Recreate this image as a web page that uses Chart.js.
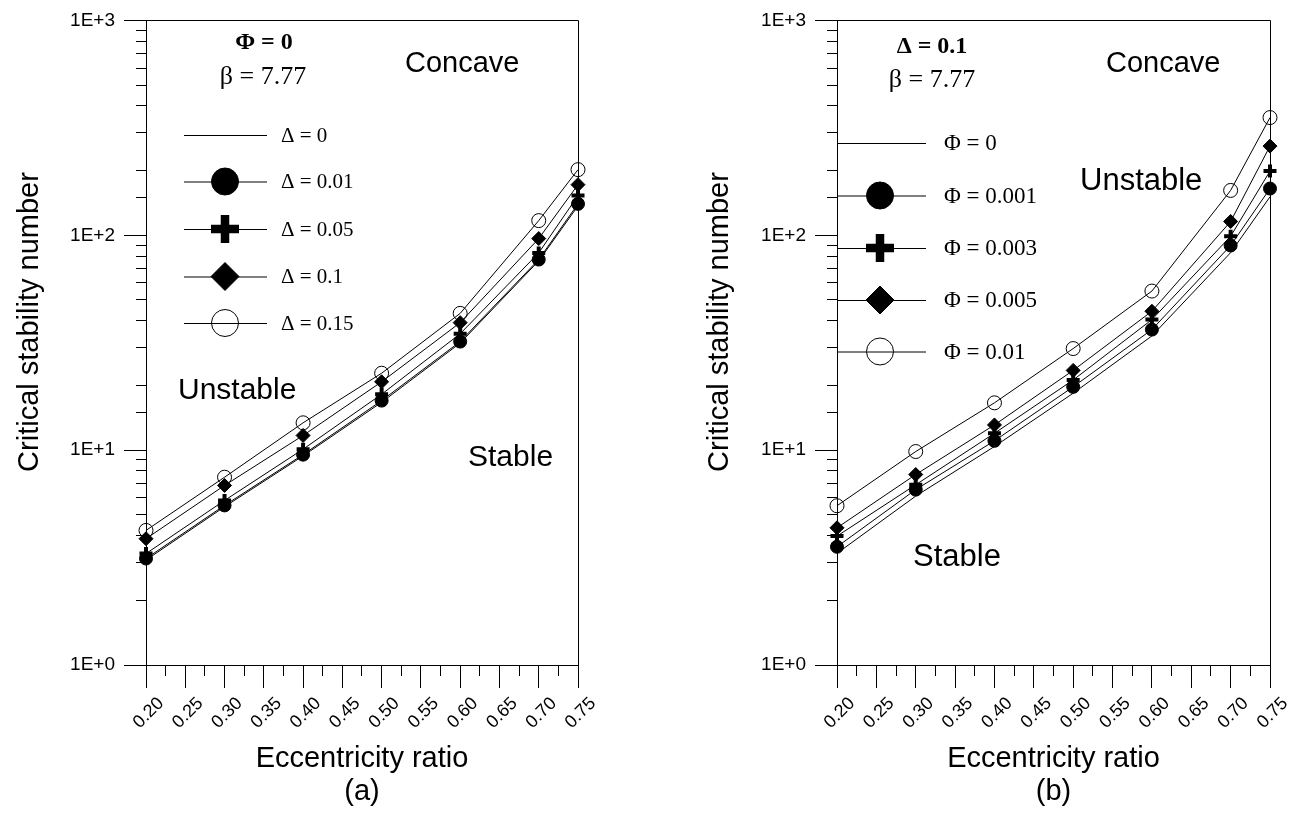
<!DOCTYPE html>
<html><head><meta charset="utf-8">
<script src="https://cdn.jsdelivr.net/npm/chart.js@4/dist/chart.umd.min.js"></script>
<style>
html,body{margin:0;padding:0;background:#fff;}
#wrap{position:relative;width:1304px;height:813px;overflow:hidden;}
.c{position:absolute;top:0;width:652px;height:813px;}
</style></head><body>
<div id="wrap">
<div class="c" style="left:0"><canvas id="ca"></canvas></div>
<div class="c" style="left:652px"><canvas id="cb"></canvas></div>
</div>
<script>
// ---------- data ----------
const eccentricity = [0.20, 0.30, 0.40, 0.50, 0.60, 0.70, 0.75];

// chart (a): Phi = 0, beta = 7.77
const aSeriesLabels = ['Δ = 0', 'Δ = 0.01', 'Δ = 0.05', 'Δ = 0.1', 'Δ = 0.15'];
const aDelta0   = [3.08, 5.45, 9.40, 16.7, 31.5, 76.0, 137];
const aDelta001 = [3.13, 5.53, 9.53, 17.0, 32.0, 77.1, 140];
const aDelta005 = [3.30, 5.83, 10.1, 18.2, 34.8, 82.8, 153];
const aDelta01  = [3.87, 6.85, 11.7, 20.8, 39.2, 96.5, 172];
const aDelta015 = [4.23, 7.48, 13.4, 22.8, 43.3, 117, 202];

// chart (b): Delta = 0.1, beta = 7.77
const bSeriesLabels = ['Φ = 0', 'Φ = 0.001', 'Φ = 0.003', 'Φ = 0.005', 'Φ = 0.01'];
const bPhi0    = [3.31, 6.11, 10.4, 18.4, 34.0, 83.0, 151];
const bPhi0001 = [3.55, 6.55, 11.05, 19.7, 36.4, 89.6, 165];
const bPhi0003 = [3.98, 6.90, 11.98, 21.2, 40.5, 98.9, 199];
const bPhi0005 = [4.35, 7.70, 13.1, 23.5, 44.3, 115.9, 260];
const bPhi001  = [5.51, 9.85, 16.6, 29.7, 55.0, 161.7, 353];

const yTickLabels = {1: '1E+0', 10: '1E+1', 100: '1E+2', 1000: '1E+3'};

// ---------- helpers ----------
const SANS = "'Liberation Sans', Arial, sans-serif";
const SERIF = "'Liberation Serif', 'Times New Roman', serif";

const markerStyles = [
  {pointStyle: 'circle', radius: 0, fill: '#000', bw: 0, lr: 0, lbw: 0},
  {pointStyle: 'circle', radius: 6.5, fill: '#000', bw: 1, lr: 13.5, lbw: 1},
  {pointStyle: 'cross', radius: 6.5, fill: '#000', bw: 4, lr: 14, lbw: 8.5},
  {pointStyle: 'rectRot', radius: 7, fill: '#000', bw: 1, lr: 14, lbw: 1},
  {pointStyle: 'circle', radius: 7, fill: 'rgba(0,0,0,0)', bw: 1, lr: 13.5, lbw: 1}
];

function makeDatasets(labels, series) {
  return series.map((vals, i) => {
    const m = markerStyles[i];
    return {
      label: labels[i],
      data: eccentricity.map((x, j) => ({x: x, y: vals[j]})),
      borderColor: '#000',
      borderWidth: 1,
      tension: 0,
      fill: false,
      clip: false,
      pointStyle: m.pointStyle,
      pointRadius: m.radius,
      pointHoverRadius: m.radius,
      pointBackgroundColor: m.fill,
      pointBorderColor: '#000',
      pointBorderWidth: m.bw,
      xAxisID: 'x',
      yAxisID: 'y',
      order: 5 - i
    };
  });
}

const annotPlugin = {
  id: 'annot',
  afterDraw(chart, args, opts) {
    const ctx = chart.ctx;
    const ca = chart.chartArea;
    ctx.save();
    // plot frame (top and right)
    ctx.strokeStyle = '#000';
    ctx.lineWidth = 1;
    ctx.beginPath();
    ctx.moveTo(Math.round(ca.left) + 0.5, Math.round(ca.top) + 0.5);
    ctx.lineTo(Math.round(ca.right) + 0.5, Math.round(ca.top) + 0.5);
    ctx.lineTo(Math.round(ca.right) + 0.5, Math.round(ca.bottom) + 0.5);
    ctx.stroke();

    // y axis title
    const yt = opts.yTitle;
    ctx.save();
    ctx.translate(yt.x, yt.y);
    ctx.rotate(-Math.PI / 2);
    ctx.fillStyle = '#000';
    ctx.font = yt.font;
    ctx.textAlign = 'center';
    ctx.textBaseline = 'middle';
    ctx.fillText(yt.text, 0, 0);
    ctx.restore();

    // legend
    const L = opts.legend;
    chart.data.datasets.forEach((ds, i) => {
      const y = L.ys[i];
      ctx.strokeStyle = '#000';
      ctx.lineWidth = 1;
      ctx.beginPath();
      ctx.moveTo(L.x1, y + 0.5);
      ctx.lineTo(L.x2, y + 0.5);
      ctx.stroke();
      const m = markerStyles[i];
      if (m.lr > 0) {
        ctx.fillStyle = m.fill;
        ctx.strokeStyle = '#000';
        ctx.lineWidth = m.lbw;
        Chart.helpers.drawPoint(ctx, {pointStyle: m.pointStyle, radius: m.lr, rotation: 0, borderWidth: m.lbw}, L.xm, y);
      }
      ctx.fillStyle = '#000';
      ctx.font = L.font;
      ctx.textAlign = 'left';
      ctx.textBaseline = 'middle';
      ctx.fillText(ds.label, L.xt, y + 1);
    });

    // texts
    opts.texts.forEach(t => {
      ctx.fillStyle = '#000';
      ctx.font = t.font;
      ctx.textAlign = t.align || 'left';
      ctx.textBaseline = 'middle';
      ctx.fillText(t.text, t.x, t.y);
    });
    ctx.restore();
  }
};

function makeChart(id, labels, series, yAxisWidth, rightPad, caption, yTitle, legend, texts) {
  return new Chart(document.getElementById(id), {
    type: 'line',
    data: {datasets: makeDatasets(labels, series)},
    plugins: [annotPlugin],
    options: {
      responsive: true,
      maintainAspectRatio: false,
      animation: false,
      events: [],
      layout: {padding: {left: 0, top: 19, right: rightPad, bottom: 0}},
      plugins: {
        legend: {display: false},
        tooltip: {enabled: false},
        annot: {legend: legend, texts: texts, yTitle: yTitle}
      },
      scales: {
        x: {
          type: 'linear', position: 'bottom', weight: 1,
          min: 0.2, max: 0.75,
          afterFit: s => { s.height = 148; },
          border: {display: true, color: '#000', width: 1},
          grid: {drawOnChartArea: false, drawTicks: true, tickLength: 23, color: '#000', tickColor: '#000', lineWidth: 1},
          ticks: {
            stepSize: 0.05, autoSkip: false, minRotation: 45, maxRotation: 45,
            labelOffset: 15, padding: 5, color: '#000',
            font: {family: SANS, size: 18},
            callback: v => Number(v).toFixed(2)
          },
          title: {
            display: true, text: ['Eccentricity ratio', caption], color: '#000',
            font: {family: SANS, size: 29, lineHeight: 1.14},
            padding: {top: 0, bottom: 4}
          }
        },
        xm: {
          type: 'linear', position: 'bottom', weight: 0,
          min: 0.2, max: 0.75,
          afterFit: s => { s.height = 0; },
          border: {display: false},
          grid: {drawOnChartArea: false, drawTicks: true, tickLength: 11, color: '#000', lineWidth: 1},
          ticks: {display: false, stepSize: 0.025, autoSkip: false}
        },
        y: {
          type: 'logarithmic', position: 'left', weight: 1,
          min: 1, max: 1000,
          afterFit: s => { s.width = yAxisWidth; },
          border: {display: true, color: '#000', width: 1},
          grid: {
            drawOnChartArea: false, drawTicks: true, tickLength: 22, lineWidth: 1,
            tickColor: c => (c.tick && yTickLabels[Math.round(c.tick.value)] && Math.abs(c.tick.value - Math.round(c.tick.value)) < 1e-6) ? '#000' : 'rgba(0,0,0,0)'
          },
          ticks: {
            autoSkip: false, padding: 9, color: '#000',
            font: {family: SANS, size: 19},
            callback: v => yTickLabels[v] || ''
          },
          title: {display: false}
        },
        ym: {
          type: 'logarithmic', position: 'left', weight: 0,
          min: 1, max: 1000,
          afterFit: s => { s.width = 0; },
          border: {display: false},
          grid: {drawOnChartArea: false, drawTicks: true, tickLength: 10, color: '#000', lineWidth: 1},
          ticks: {display: false, autoSkip: false}
        }
      }
    }
  });
}

makeChart('ca', aSeriesLabels, [aDelta0, aDelta001, aDelta005, aDelta01, aDelta015],
  146, 74, '(a)',
  {text: 'Critical stability number', x: 30, y: 322, font: '29px ' + SANS},
  {x1: 184, x2: 267, xm: 225, xt: 281, ys: [135, 181.5, 229, 276.5, 323], font: '21px ' + SERIF},
  [
    {text: 'Φ = 0', x: 264, y: 43, align: 'center', font: 'bold 24px ' + SERIF},
    {text: 'β = 7.77', x: 263, y: 77, align: 'center', font: '26px ' + SERIF},
    {text: 'Concave', x: 405, y: 64, font: '29px ' + SANS},
    {text: 'Unstable', x: 178, y: 391, font: '30px ' + SANS},
    {text: 'Stable', x: 468, y: 458, font: '30px ' + SANS}
  ]);

makeChart('cb', bSeriesLabels, [bPhi0, bPhi0001, bPhi0003, bPhi0005, bPhi001],
  185, 34, '(b)',
  {text: 'Critical stability number', x: 68, y: 322, font: '29px ' + SANS},
  {x1: 185, x2: 274, xm: 228, xt: 292, ys: [143, 195.5, 248, 300, 351.5], font: '23px ' + SERIF},
  [
    {text: 'Δ = 0.1', x: 280, y: 47, align: 'center', font: 'bold 24px ' + SERIF},
    {text: 'β = 7.77', x: 280, y: 80, align: 'center', font: '26px ' + SERIF},
    {text: 'Concave', x: 454, y: 64, font: '29px ' + SANS},
    {text: 'Unstable', x: 428, y: 181, font: '31px ' + SANS},
    {text: 'Stable', x: 261, y: 557, font: '31px ' + SANS}
  ]);
</script>
</body></html>
